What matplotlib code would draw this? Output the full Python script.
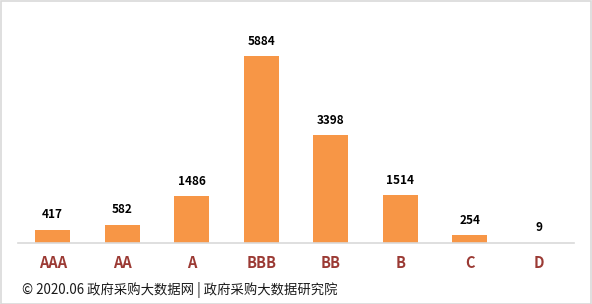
import matplotlib
matplotlib.use("Agg")
import matplotlib.pyplot as plt
from matplotlib.patches import Rectangle

categories = ["AAA", "AA", "A", "BBB", "BB", "B", "C", "D"]
values = [417, 582, 1486, 5884, 3398, 1514, 254, 9]
footer = "© 2020.06 政府采购大数据网 | 政府采购大数据研究院"

plt.rcParams['font.family'] = ['Noto Sans CJK SC', 'DejaVu Sans']

fig = plt.figure(figsize=(5.92, 3.04), dpi=100)
ax = fig.add_axes([18/592, 1 - 243/304, (574-18)/592, (243-21)/304])
x = range(len(categories))
ax.bar(x, values, width=0.5, color="#F79646", zorder=2)
ax.set_xlim(-0.5, len(categories) - 0.5)
ax.set_ylim(0, 7000)
for xi, v in zip(x, values):
    ax.annotate(str(v), (xi, v), xytext=(0, 6), textcoords="offset points",
                ha="center", va="bottom", fontsize=8.5, fontweight="bold",
                color="#000000")
ax.set_xticks(list(x))
ax.set_xticklabels(categories, fontsize=10.5, fontweight="heavy", color="#9B3A34")
ax.tick_params(axis="x", length=0, pad=9)
ax.set_yticks([])
for s in ["top", "right", "left"]:
    ax.spines[s].set_visible(False)
ax.spines["bottom"].set_color("#D9D9D9")
ax.spines["bottom"].set_linewidth(1.2)

fig.text(22/592, 1 - 290/304, footer, fontsize=9.6, color="#1a1a1a",
         ha="left", va="center")
fig.patches.append(Rectangle((0.5/592, 0.5/304), 1 - 1.5/592, 1 - 1.5/304,
                             transform=fig.transFigure, fill=False,
                             edgecolor="#D9D9D9", linewidth=1.2))
fig.savefig("out.png", dpi=100)
